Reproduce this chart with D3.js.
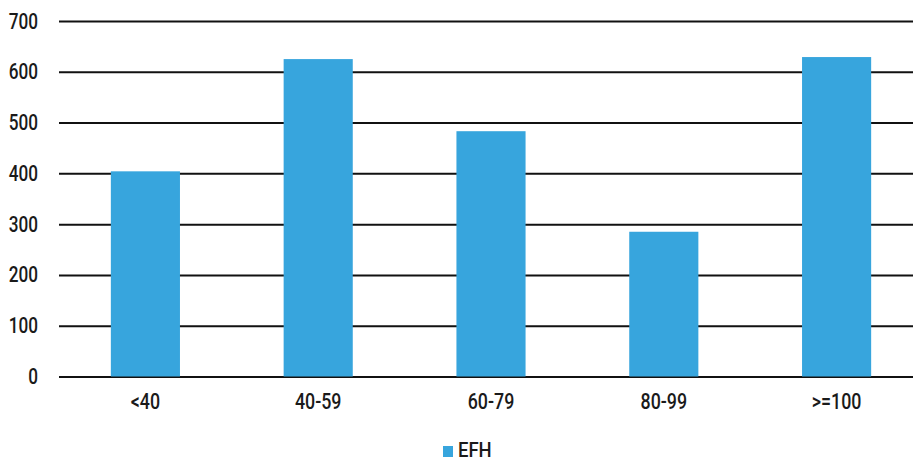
<!DOCTYPE html>
<html>
<head>
<meta charset="utf-8">
<script src="https://cdn.jsdelivr.net/npm/d3@7"></script>
<style>
  html, body { margin: 0; padding: 0; background: #fff; }
  svg { display: block; }
  text { font-family: "Roboto", "Liberation Sans", sans-serif; font-weight: 500; fill: #1a1a1a; }
</style>
</head>
<body>
<svg id="chart" width="913" height="462"></svg>
<script>
// Age groups and counts
const categories = ["<40", "40-59", "60-79", "80-99", ">=100"];
const efhValues = [404, 625, 483, 285, 629];
const yTicks = [0, 100, 200, 300, 400, 500, 600, 700];
const seriesName = "EFH";

const width = 913, height = 462;
const margin = { top: 21, right: -10, bottom: 85.5, left: 59 };
const fontSize = 22;
const squeeze = 0.78; // horizontal compression for a condensed look
const svg = d3.select("#chart");

// Narrow the glyphs horizontally while keeping the anchor point in place
function condense(sel, s) {
  sel.each(function () {
    const t = d3.select(this);
    const x0 = +t.attr("x") || 0;
    t.attr("x", x0 / s).attr("transform", `scale(${s},1)`);
  });
}

const x = d3.scaleBand()
  .domain(categories)
  .range([margin.left, width - margin.right])
  .paddingInner(0.6)
  .paddingOuter(0.3);

const y = d3.scaleLinear()
  .domain([0, 700])
  .range([height - margin.bottom, margin.top]);

// Horizontal gridlines with value labels
const yAxis = d3.axisLeft(y)
  .tickValues(yTicks)
  .tickSize(-(width - margin.left))
  .tickPadding(21)
  .tickFormat(d3.format("d"));

const gy = svg.append("g")
  .attr("transform", `translate(${margin.left},0)`)
  .call(yAxis);
gy.select(".domain").remove();
gy.selectAll(".tick line").attr("stroke", "#111").attr("stroke-width", 2);
gy.selectAll(".tick text")
  .attr("font-size", fontSize)
  .attr("fill", "#1a1a1a")
  .call(condense, squeeze);

// Bars
svg.append("g")
  .selectAll("rect")
  .data(efhValues)
  .join("rect")
  .attr("x", (d, i) => x(categories[i]))
  .attr("y", d => y(d))
  .attr("width", x.bandwidth())
  .attr("height", d => y(0) - y(d))
  .attr("fill", "#37a5dd");

// Category labels
const xAxis = d3.axisBottom(x).tickSize(0).tickPadding(17);
const gx = svg.append("g")
  .attr("transform", `translate(0,${y(0)})`)
  .call(xAxis);
gx.select(".domain").remove();
gx.selectAll(".tick text")
  .attr("font-size", fontSize)
  .attr("fill", "#1a1a1a")
  .call(condense, 0.81);

// Legend
const legend = svg.append("g").attr("transform", "translate(443,446)");
legend.append("rect").attr("width", 10).attr("height", 11).attr("fill", "#37a5dd");
legend.append("text")
  .attr("x", 15).attr("y", 4)
  .attr("dy", "0.35em")
  .attr("font-size", 21)
  .text(seriesName)
  .call(condense, 0.88);
</script>
</body>
</html>
